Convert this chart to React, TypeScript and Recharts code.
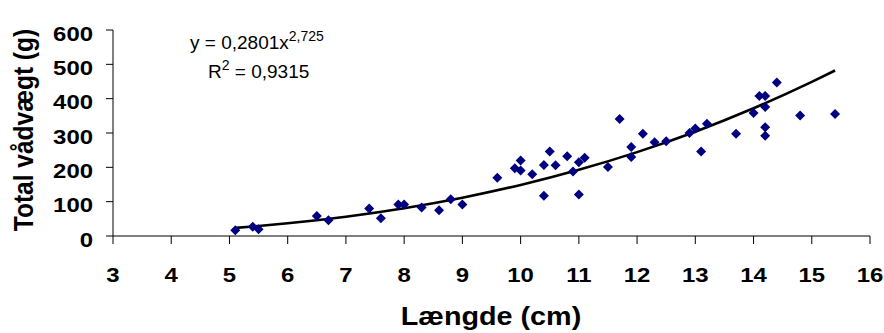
import { ComposedChart, Scatter, Line, XAxis, YAxis, Customized } from 'recharts';

// length (cm) and total wet weight (g) of each fish
const lengths = [
  5.1, 5.4, 5.5, 6.5, 6.7, 7.4, 7.6, 7.9, 8.0, 8.3, 8.6, 8.8, 9.0, 9.6, 9.9, 10.0,
  10.0, 10.2, 10.4, 10.4, 10.5, 10.6, 10.8, 10.9, 11.0, 11.0, 11.1, 11.5, 11.7, 11.9,
  11.9, 12.1, 12.3, 12.5, 12.9, 13.0, 13.1, 13.2, 13.7, 14.0, 14.1, 14.2, 14.2, 14.2,
  14.2, 14.4, 14.8, 15.4,
];
const weights = [
  17, 27, 20, 58, 46, 80, 52, 92, 92, 83, 75, 107, 92, 170, 197, 220, 191, 180, 207,
  117, 246, 206, 232, 188, 215, 121, 228, 201, 341, 259, 230, 298, 273, 276, 300, 313,
  246, 327, 298, 358, 408, 408, 376, 317, 292, 447, 351, 355,
];

// power trend line (y = 0,2801x^2,725), sampled along the drawn curve
const trendLengths = [5.1, 5.5, 6, 6.5, 7, 8, 9, 10, 11, 12, 13, 14, 15, 15.4];
const trendWeights = [23.7, 29.2, 37.0, 46.0, 56.3, 81.0, 111.6, 148.7, 192.7, 244.3, 303.9, 371.9, 448.9, 482];

const xTicks = [3, 4, 5, 6, 7, 8, 9, 10, 11, 12, 13, 14, 15, 16];
const yTicks = [0, 100, 200, 300, 400, 500, 600];

const points = lengths.map((x, i) => ({ x, w: weights[i] }));
const trend = trendLengths.map((x, i) => ({ x, w: trendWeights[i] }));

const FONT = '"Liberation Sans", Arial, sans-serif';
const STRETCH = 1.14;

const Diamond = (props: any) => {
  const { cx, cy } = props;
  const r = 5;
  return (
    <path
      d={`M${cx},${cy - r}L${cx + r},${cy}L${cx},${cy + r}L${cx - r},${cy}Z`}
      fill="#000080"
    />
  );
};

const XTick = (props: any) => {
  const { x, y, payload } = props;
  return (
    <text
      transform={`translate(${x},${y + 38}) scale(${STRETCH},1)`}
      textAnchor="middle"
      fontFamily={FONT}
      fontWeight="bold"
      fontSize={21}
      fill="#000"
    >
      {payload.value}
    </text>
  );
};

const YTick = (props: any) => {
  const { x, y, payload } = props;
  return (
    <text
      transform={`translate(${x - 13},${y + 10.5}) scale(${STRETCH},1)`}
      textAnchor="end"
      fontFamily={FONT}
      fontWeight="bold"
      fontSize={21}
      fill="#000"
    >
      {payload.value}
    </text>
  );
};

const Labels = () => (
  <g fontFamily={FONT} fill="#000">
    <text x={190} y={49} fontSize={19}>
      y = 0,2801x
      <tspan dy={-8} fontSize={14}>2,725</tspan>
    </text>
    <text x={208} y={78} fontSize={19}>
      R<tspan dy={-8} fontSize={14}>2</tspan>
      <tspan dy={8}>{'\u00A0= 0,9315'}</tspan>
    </text>
    <text
      transform={`translate(491,325) scale(1.15,1)`}
      textAnchor="middle"
      fontWeight="bold"
      fontSize={25}
    >
      Længde (cm)
    </text>
    <text
      transform={`translate(33,130) scale(1.15,1) rotate(-90)`}
      textAnchor="middle"
      fontWeight="bold"
      fontSize={24.5}
    >
      Total vådvægt (g)
    </text>
  </g>
);

export default function App() {
  return (
    <div style={{ position: 'absolute', left: 0, top: 0, background: '#fff' }}>
      <ComposedChart
        width={884}
        height={333}
        margin={{ top: 30, right: 14, bottom: 0, left: 0 }}
      >
        <XAxis
          type="number"
          dataKey="x"
          domain={[3, 16]}
          ticks={xTicks}
          interval={0}
          allowDataOverflow
          height={97}
          tickSize={8}
          tickMargin={0}
          stroke="#000"
          tickLine={{ stroke: '#000' }}
          axisLine={{ stroke: '#000' }}
          tick={<XTick />}
        />
        <YAxis
          type="number"
          domain={[0, 600]}
          ticks={yTicks}
          interval={0}
          width={113}
          tickSize={7}
          tickMargin={0}
          stroke="#000"
          tickLine={{ stroke: '#000' }}
          axisLine={{ stroke: '#000' }}
          tick={<YTick />}
        />
        <Scatter
          data={points}
          dataKey="w"
          shape={<Diamond />}
          isAnimationActive={false}
        />
        <Line
          data={trend}
          dataKey="w"
          type="monotone"
          stroke="#000"
          strokeWidth={2.6}
          dot={false}
          activeDot={false}
          isAnimationActive={false}
        />
        <Customized component={Labels} />
      </ComposedChart>
    </div>
  );
}
